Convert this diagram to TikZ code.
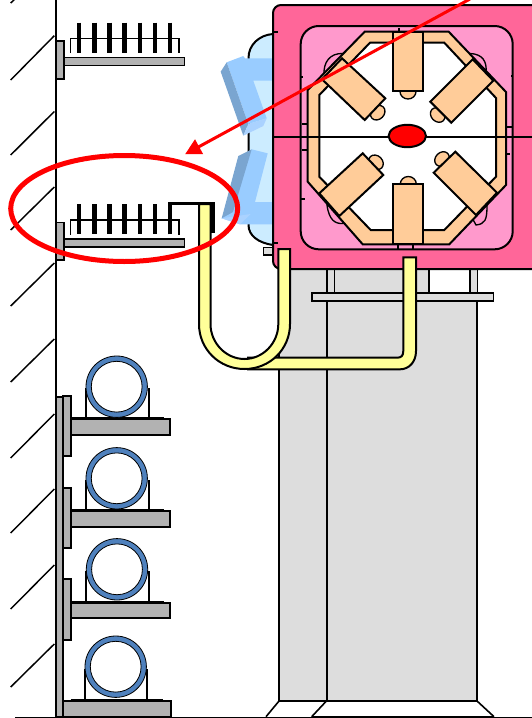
\documentclass[tikz,border=0pt]{standalone}
\usetikzlibrary{arrows.meta}

\tikzset{every picture/.style={line width=0.75pt}}
\tikzset{
  heavy/.style={line width=1.5pt},
  hatchline/.style={line width=1.1pt},
  steelpart/.style={heavy,fill={rgb, 255:red, 178; green, 178; blue, 178 }},
  columnpart/.style={line width=1.2pt,fill={rgb, 255:red, 221; green, 221; blue, 221 }},
  yoke/.style={heavy,fill={rgb, 255:red, 255; green, 102; blue, 153 }},
  yokeinner/.style={heavy,fill={rgb, 255:red, 255; green, 153; blue, 204 }},
  coilpart/.style={heavy,fill={rgb, 255:red, 255; green, 204; blue, 153 }},
  tube/.style={heavy,fill={rgb, 255:red, 255; green, 255; blue, 153 }},
  pipering/.style={line width=0.6pt,fill={rgb, 255:red, 79; green, 129; blue, 189 },even odd rule},
  blockmain/.style={fill={rgb, 255:red, 153; green, 204; blue, 255 }},
  blockdark/.style={fill={rgb, 255:red, 122; green, 165; blue, 208 }},
  blocklight/.style={fill={rgb, 255:red, 170; green, 210; blue, 255 }},
  redmark/.style={draw={rgb, 255:red, 255; green, 0; blue, 0 },line width=3.75pt},
}

\begin{document}
\begin{tikzpicture}[x=0.75pt,y=0.75pt,yscale=-1,xscale=1]
\useasboundingbox (0,0) rectangle (532,718);

%Shape: Column [id:col1]
\draw  [columnpart] (279,269) -- (326.7,269) -- (326.7,700.7) -- (279,700.7) -- cycle ;
\draw  [columnpart] (326.7,301) -- (476.7,301) -- (476.7,700.7) -- (326.7,700.7) -- cycle ;
\draw  [columnpart,draw=none] (334,269) -- (429,269) -- (429,293) -- (334,293) -- cycle ;
\draw  [heavy] (429,269) -- (429,293) ;
%Shape: Column legs [id:col2]
\draw  [columnpart] (326.7,269) -- (334.3,269) -- (334.3,292.7) -- (326.7,292.7) -- cycle ;
\draw  [columnpart] (470,269) -- (477.3,269) -- (477.3,292.7) -- (470,292.7) -- cycle ;
%Shape: Plate [id:col3]
\draw  [columnpart] (311.7,292.7) -- (493.3,292.7) -- (493.3,301) -- (311.7,301) -- cycle ;
%Straight Lines: base [id:col4]
\draw  [line width=1.2pt] (279.3,700.7) -- (266,716.7) ;
\draw  [line width=1.2pt] (326.7,700.7) -- (311.7,716.7) ;
\draw  [line width=1.2pt] (476.7,700.7) -- (494,716.7) ;
%Straight Lines: floor [id:flr1]
\draw  [line width=1pt] (15,717.2) -- (532,717.2) ;
\draw  [line width=2pt] (311.7,717) -- (494,717) ;

%Straight Lines: hatching [id:hat1]
\draw  [hatchline] (15,-1) -- (10.7,3) ;
\draw  [hatchline] (54.3,35.7) -- (10.7,80) ;
\draw  [hatchline] (54.3,111.5) -- (10.7,155) ;
\draw  [hatchline] (54.3,187) -- (10.7,230) ;
\draw  [hatchline] (54.3,263) -- (10.7,306) ;
\draw  [hatchline] (54.3,339) -- (10.7,382) ;
\draw  [hatchline] (54.3,414) -- (10.7,458) ;
\draw  [hatchline] (54.3,489) -- (10.7,533) ;
\draw  [hatchline] (54.3,565) -- (10.7,609) ;
\draw  [hatchline] (54.3,644) -- (10.7,687) ;

%Shape: Wall strip [id:wal1]
\draw  [steelpart] (56,396.7) -- (63.3,396.7) -- (63.3,717) -- (56,717) -- cycle ;
%Straight Lines: wall [id:wal2]
\draw  [line width=1.9pt] (56,0) -- (56,718) ;

%Shape: Upper trays [id:try1]
\draw  [steelpart,line width=1pt] (56.7,41) -- (64,41) -- (64,79) -- (56.7,79) -- cycle ;
\draw  [steelpart,line width=1pt] (64,57.3) -- (184.7,57.3) -- (184.7,65.7) -- (64,65.7) -- cycle ;
\draw  [steelpart,line width=1pt] (56.7,222.3) -- (64,222.3) -- (64,260) -- (56.7,260) -- cycle ;
\draw  [steelpart,line width=1pt] (64,239) -- (184.7,239) -- (184.7,247) -- (64,247) -- cycle ;
%Straight Lines: cable rack [id:try2]
\draw  [line width=0.8pt] (70.7,53) -- (70.7,38.3) -- (179,38.3) -- (179,53) ;
\draw  [line width=0.8pt] (70.7,234.7) -- (70.7,220) -- (179,220) -- (179,234.7) ;
%Straight Lines: cables [id:try3]
\draw  [line width=3.4pt] (79,22.7) -- (79,52.7) (94.3,22.7) -- (94.3,52.7) (109.3,22.7) -- (109.3,52.7) (124.7,22.7) -- (124.7,52.7) (140,22.7) -- (140,52.7) (155,22.7) -- (155,52.7) (170,22.7) -- (170,52.7) ;
\draw  [line width=3.4pt] (79,204.3) -- (79,234.3) (94.3,204.3) -- (94.3,234.3) (109.3,204.3) -- (109.3,234.3) (124.7,204.3) -- (124.7,234.3) (140,204.3) -- (140,234.3) (155,204.3) -- (155,234.3) ;
%Shape: Lead [id:try4]
\draw  [line width=3.4pt] (170,234.3) -- (170,204.3) ;
\draw  [line width=1.7pt] (168.3,203.5) -- (214.5,203.5) ;
\draw  [line width=3.6pt] (212.5,203) -- (212.5,233) ;

%Shape: Pipe saddles [id:pip1]
\draw  [line width=0.9pt,fill=white] (86,388) -- (86,419) -- (149,419) -- (149,388) ;
\draw  [line width=0.9pt,fill=white] (86,480) -- (86,511) -- (149,511) -- (149,480) ;
\draw  [line width=0.9pt,fill=white] (86,571) -- (86,602.7) -- (149,602.7) -- (149,571) ;
\draw  [line width=0.9pt,fill=white] (85,669) -- (85,700.7) -- (147,700.7) -- (147,669) ;
\draw  [line width=1.4pt] (71.7,418.3) -- (164,418.3) (71.7,510.3) -- (164,510.3) (71.7,602) -- (164,602) (70.7,700) -- (163,700) ;
%Shape: Pipe brackets [id:pip2]
\draw  [steelpart] (63.3,396) -- (71,396) -- (71,456) -- (63.3,456) -- cycle ;
\draw  [steelpart] (71,419) -- (169.7,419) -- (169.7,434.7) -- (71,434.7) -- cycle ;
\draw  [steelpart] (63.3,487.7) -- (71,487.7) -- (71,548.3) -- (63.3,548.3) -- cycle ;
\draw  [steelpart] (71,511) -- (169.7,511) -- (169.7,526.7) -- (71,526.7) -- cycle ;
\draw  [steelpart] (63.3,579.3) -- (71,579.3) -- (71,640) -- (63.3,640) -- cycle ;
\draw  [steelpart] (71,602.7) -- (170.3,602.7) -- (170.3,618) -- (71,618) -- cycle ;
\draw  [steelpart] (63.3,700.7) -- (171,700.7) -- (171,717) -- (63.3,717) -- cycle ;
%Shape: Pipes [id:pip3]
\draw  [pipering] (116.7,386.7) circle [radius=30.7] (116.7,386.7) circle [radius=25.4] ;
\draw  [pipering] (116.7,478.3) circle [radius=30.7] (116.7,478.3) circle [radius=25.4] ;
\draw  [pipering] (117,569.3) circle [radius=30.7] (117,569.3) circle [radius=25.4] ;
\draw  [pipering] (115.7,666.7) circle [radius=30.7] (115.7,666.7) circle [radius=25.4] ;

%Shape: Beam chamber end [id:end1]
\draw  [heavy,fill={rgb, 255:red, 204; green, 236; blue, 255 }] (273,34) .. controls (259,35) and (248.5,45) .. (248.5,58) -- (248.5,225) .. controls (248.5,236) and (259,243) .. (273,245) -- cycle ;
\draw  [columnpart,line width=1pt] (263.3,247.3) -- (273,247.3) -- (273,255) -- (263.3,255) -- cycle ;
%Shape: End blocks [id:end2]
\fill  [blockmain] (226.7,62.3) -- (243.3,56) -- (245,58.3) -- (272.3,58.3) -- (272.3,80.7) -- (253.3,80.7) -- (266.7,118.3) -- (248.3,124) -- cycle ;
\fill  [blockdark] (220.7,71.7) -- (226.7,62.3) -- (248.3,124) -- (243.3,135.7) -- cycle ;
\fill  [blocklight] (243.3,135.7) -- (248.3,124) -- (266.7,118.3) -- (263.3,126) -- cycle ;
\fill  [blockmain] (251.7,149.3) -- (267.7,153.3) -- (255,202) -- (272.3,202) -- (272.3,224.3) -- (240,224.3) -- (221.7,218.3) -- cycle ;
\fill  [blockdark] (251.7,149.3) -- (238.3,156) -- (221.7,218.3) -- (233,212) -- cycle ;
\fill  [blocklight] (221.7,218.3) -- (250.7,214) -- (240,224.3) -- cycle ;

%Shape: Yoke [id:mag1]
\draw  [yoke] (281,5) -- (535,5) -- (535,269) -- (281,269) .. controls (276.6,269) and (273,265.4) .. (273,261) -- (273,13) .. controls (273,8.6) and (276.6,5) .. (281,5) -- cycle ;
%Shape: Inner yoke [id:mag2]
\draw  [yokeinner] (318.7,26) -- (494.7,26) .. controls (504.6,26) and (512.7,34.1) .. (512.7,44) -- (512.7,231.3) .. controls (512.7,241.2) and (504.6,249.3) .. (494.7,249.3) -- (318.7,249.3) .. controls (308.8,249.3) and (300.7,241.2) .. (300.7,231.3) -- (300.7,44) .. controls (300.7,34.1) and (308.8,26) .. (318.7,26) -- cycle ;
%Shape: Yoke corners [id:mag3]
\draw  [yokeinner,line width=1pt] (324,76) .. controls (323,62) and (330,53) .. (343,53.5) -- (350,70) -- cycle ;
\draw  [yokeinner,line width=1pt] (470,53.5) .. controls (483,54) and (487,62) .. (486,72) -- (465,70) -- cycle ;
\draw  [yokeinner,line width=1pt] (327,205) .. controls (329,220) and (335,224) .. (343,223.5) -- (350,205) -- cycle ;
\draw  [yokeinner,line width=1pt] (476,225) .. controls (485,224) and (487,220) .. (487,206) -- (465,205) -- cycle ;
%Straight Lines: ticks [id:mag4]
\draw  [line width=1pt] (273,32) -- (278,32) (273,243) -- (278,243) (399,28) -- (399,32) (398,245) -- (398,250) (413,245) -- (413,250) (300,77) -- (303,77) (302,124) -- (309,124) (302,150) -- (308,150) (301,199) -- (305,199) (511,76) -- (513,76) (507,127) -- (513,127) (507,154) -- (510,154) ;

%Shape: Coil ring [id:mag5]
\draw  [coilpart] (364.7,31.7) -- (448.7,31.7) -- (506,92) -- (506,185) -- (449.3,244.3) -- (362.7,244.3) -- (307.7,181.7) -- (307.7,90) -- cycle ;
\draw  [heavy,fill=white] (370,42.7) -- (444.3,42.7) -- (496,98) -- (496,176.7) -- (444.3,230) -- (370.7,230) -- (319.3,176.7) -- (319.3,95) -- cycle ;
%Straight Lines: midplane [id:mag6]
\draw  [line width=1pt] (273,137) -- (532,137) ;
%Shape: Pole tips [id:mag7]
\draw  [coilpart,line width=1pt] (408,91.5) circle [x radius=8, y radius=7.5] ;
\draw  [coilpart,line width=1pt] (408.3,184) circle [x radius=8, y radius=7.5] ;
\draw  [coilpart,line width=1pt,rotate around={45:(437.7,115)}] (437.7,115) circle [x radius=8, y radius=6.5] ;
\draw  [coilpart,line width=1pt,rotate around={-45:(377.7,112.7)}] (377.7,112.7) circle [x radius=8, y radius=6.5] ;
\draw  [coilpart,line width=1pt,rotate around={45:(376,162.3)}] (376,162.3) circle [x radius=8, y radius=6.5] ;
\draw  [coilpart,line width=1pt,rotate around={-45:(442,159)}] (442,159) circle [x radius=8, y radius=6.5] ;
%Shape: Coils [id:mag8]
\draw  [coilpart] (393.3,31.7) -- (423.3,31.7) -- (423.3,91.3) -- (393.3,91.3) -- cycle ;
\draw  [coilpart] (393,184) -- (423,184) -- (423,244) -- (393,244) -- cycle ;
\draw  [coilpart] (472.7,59.3) -- (493.3,80.7) -- (451.3,122.7) -- (430.3,101.7) -- cycle ;
\draw  [coilpart] (342,58.3) -- (385.3,98.3) -- (364.7,120) -- (322,79.3) -- cycle ;
\draw  [coilpart] (362.7,153.3) -- (383.3,175) -- (339.3,216) -- (319.3,193.3) -- cycle ;
\draw  [coilpart] (455.3,151.7) -- (497,192.7) -- (476,215) -- (433.7,172.7) -- cycle ;
%Shape: Beam [id:mag9]
\draw  [heavy,fill={rgb, 255:red, 255; green, 0; blue, 0 }] (407.3,136) circle [x radius=18.7, y radius=11.2] ;

%Shape: Long tube [id:tub1]
\draw  [tube] (403.3,257.3) -- (416,257.3) -- (416,351) .. controls (416,362) and (409,369.3) .. (400,369.3) -- (248,369.3) -- (248,357.7) -- (397,357.7) .. controls (401,357.7) and (403.3,356) .. (403.3,351) -- cycle ;
%Shape: U tube [id:tub2]
\draw  [tube] (199,204) -- (199,324) .. controls (199,349) and (219,369) .. (244.5,369) .. controls (270,369) and (290,349) .. (290,324) -- (290,249) -- (278.3,249) -- (278.3,324) .. controls (278.3,343) and (263,359) .. (244.5,359) .. controls (226,359) and (210.5,343) .. (210.5,324) -- (210.5,204) -- cycle ;

%Shape: Red ellipse [id:ann1]
\draw  [redmark] (124.2,208.5) circle [x radius=113.5, y radius=53] ;
%Straight Lines: red arrow [id:ann2]
\coordinate (arrowstart) at (470,-1) ;
\coordinate (arrowtip) at (185,154.3) ;
\draw  [redmark,line width=2.25pt,-{Triangle[length=12pt,width=12pt]}] (arrowstart) -- (arrowtip) ;

\end{tikzpicture}
\end{document}
